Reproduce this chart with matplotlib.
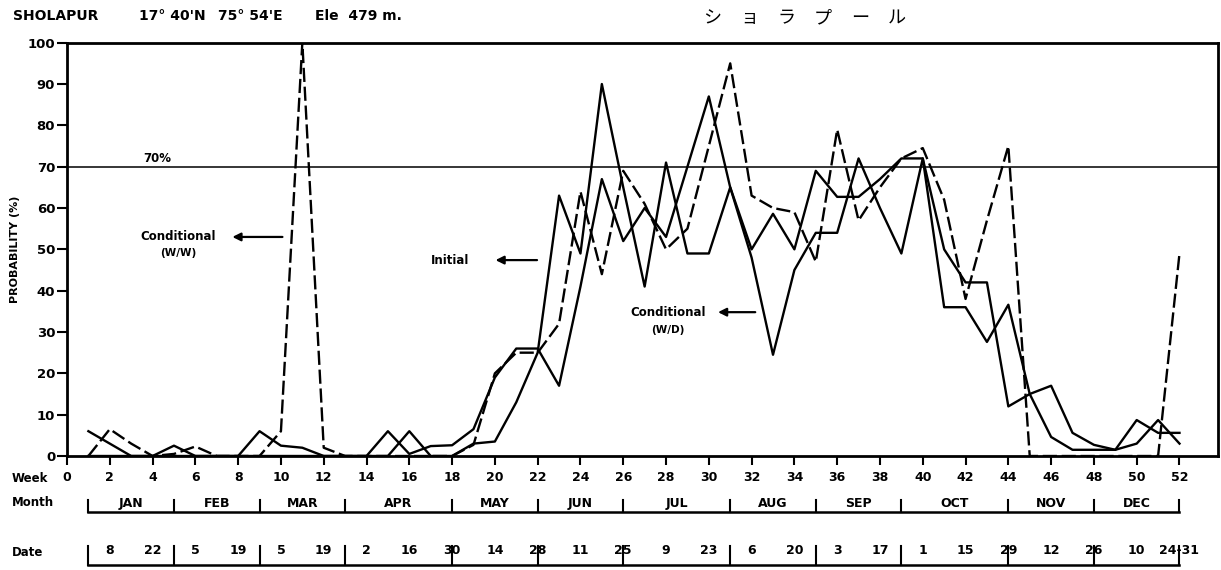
import matplotlib
matplotlib.use('Agg')
import matplotlib.pyplot as plt

plt.rcParams['font.family'] = ['DejaVu Sans']
plt.rcParams['font.weight'] = 'bold'

# weekly probabilities (%)
weeks = list(range(1, 53))
initial = [0, 0, 0, 0, 2.5, 0, 0, 0, 0, 0, 0, 0, 0, 0, 0, 6, 0, 0, 3, 3.5,
           13, 25, 63, 49, 90, 65, 41, 71, 49, 49, 65, 50, 58.6, 50, 69, 62.7, 62.7, 67, 72, 72,
           50, 42, 42, 12, 15, 17, 5.6, 2.7, 1.5, 3, 8.7, 3]
cond_ww = [0, 6.5, 3, 0, 0.5, 2.3, 0, 0, 0, 6, 100, 2, 0, 0, 0, 0, 0, 0, 2.7, 20,
           25, 25, 32, 64, 44, 69, 61, 50, 55, 75, 95, 63, 60, 59, 47, 79, 57, 65, 72, 74.5,
           62, 38, 57, 75, 0, 0, 0, 0, 0, 0, 0, 49]
cond_wd = [6, 3, 0, 0, 0, 0, 0, 0, 6, 2.5, 2, 0, 0, 0, 6, 0.5, 2.4, 2.6, 6.5, 19,
           26, 26, 17, 41, 67, 52, 60, 53, 70, 87, 65, 48, 24.5, 45, 54, 54, 72, 60, 49, 72,
           36, 36, 27.6, 36.6, 15, 4.6, 1.5, 1.5, 1.5, 8.7, 5.6, 5.6]

week_ticks = list(range(0, 53, 2))
months = ['JAN', 'FEB', 'MAR', 'APR', 'MAY', 'JUN', 'JUL', 'AUG', 'SEP', 'OCT', 'NOV', 'DEC']
month_edges = [1, 5, 9, 13, 18, 22, 26, 31, 35, 39, 44, 48, 52]
date_weeks = list(range(2, 53, 2))
date_labels = ['8', '22', '5', '19', '5', '19', '2', '16', '30', '14', '28', '11', '25',
               '9', '23', '6', '20', '3', '17', '1', '15', '29', '12', '26', '10', '24-31']

W, H = 1221, 570
fig = plt.figure(figsize=(W / 100, H / 100), dpi=100)
ax = fig.add_axes([67 / W, 1 - 456 / H, (1218 - 67) / W, (456 - 42.7) / H])

ax.plot(weeks, initial, color='black', lw=1.7)
ax.plot(weeks, cond_wd, color='black', lw=1.7)
ax.plot(weeks, cond_ww, color='black', lw=1.7, dashes=(6, 2))
ax.axhline(70, color='black', lw=1.1)

ax.set_xlim(0, 53.8)
ax.set_ylim(0, 100)
for s in ax.spines.values():
    s.set_linewidth(2)
ax.set_yticks(range(0, 101, 10))
ax.set_xticks(week_ticks)
ax.tick_params(axis='y', direction='out', length=7, width=1.5, pad=1.5, labelsize=9.5)
ax.tick_params(axis='x', direction='out', length=6.5, width=1.5, pad=4.5, labelsize=9)
ax.set_ylabel('PROBABILITY (%)', fontsize=8, fontweight='bold')
ax.yaxis.set_label_coords(-0.041, 0.5)

ax.text(4.2, 70.5, '70%', ha='center', va='bottom', fontsize=8.5)

# series labels with arrows
arrow = dict(arrowstyle='-|>', color='black', lw=1.6, mutation_scale=12)
ax.text(5.2, 53, 'Conditional', ha='center', va='center', fontsize=8.5)
ax.text(5.2, 49, '(W/W)', ha='center', va='center', fontsize=7.5)
ax.annotate('', xy=(7.6, 53), xytext=(10.2, 53), arrowprops=arrow)

ax.text(18.8, 47.4, 'Initial', ha='right', va='center', fontsize=8.5)
ax.annotate('', xy=(19.9, 47.4), xytext=(22.1, 47.4), arrowprops=arrow)

ax.text(28.1, 34.8, 'Conditional', ha='center', va='center', fontsize=8.5)
ax.text(28.1, 30.5, '(W/D)', ha='center', va='center', fontsize=7.5)
ax.annotate('', xy=(30.3, 34.8), xytext=(32.3, 34.8), arrowprops=arrow)

# header
fig.text(13 / W, 1 - 16 / H, 'SHOLAPUR', fontsize=10, va='center')
fig.text(139 / W, 1 - 16 / H, "17° 40'N", fontsize=10, va='center')
fig.text(218 / W, 1 - 16 / H, "75° 54'E", fontsize=10, va='center')
fig.text(315 / W, 1 - 16 / H, 'Ele  479 m.', fontsize=10, va='center')
for i, ch in enumerate('ショラプール'):
    fig.text((712 + i * 37) / W, 1 - 18 / H, ch, fontsize=13, ha='center', va='center',
             family=['Noto Sans CJK JP', 'DejaVu Sans'], fontweight='normal')

# month / date rows below the axis
axb = fig.add_axes([67 / W, 0, (1218 - 67) / W, 1 - 456 / H], sharex=ax)
axb.set_ylim(570, 456)
axb.axis('off')

fig.text(12 / W, 1 - 478 / H, 'Week', fontsize=8.5, va='center')
fig.text(12 / W, 1 - 503 / H, 'Month', fontsize=8.5, va='center')
fig.text(12 / W, 1 - 553 / H, 'Date', fontsize=8.5, va='center')

axb.plot([month_edges[0], month_edges[-1]], [512, 512], color='black', lw=1.8, clip_on=False)
axb.plot([month_edges[0], month_edges[-1]], [565, 565], color='black', lw=1.8, clip_on=False)
for e in month_edges:
    axb.plot([e, e], [512, 500], color='black', lw=1.5, clip_on=False)
    axb.plot([e, e], [565, 546], color='black', lw=1.5, clip_on=False)
for m, a, b in zip(months, month_edges[:-1], month_edges[1:]):
    axb.text((a + b) / 2, 510, m, ha='center', va='bottom', fontsize=9, clip_on=False)
for w, d in zip(date_weeks, date_labels):
    axb.text(w, 551, d, ha='center', va='center', fontsize=9, clip_on=False)

fig.savefig('out.png', dpi=100)
